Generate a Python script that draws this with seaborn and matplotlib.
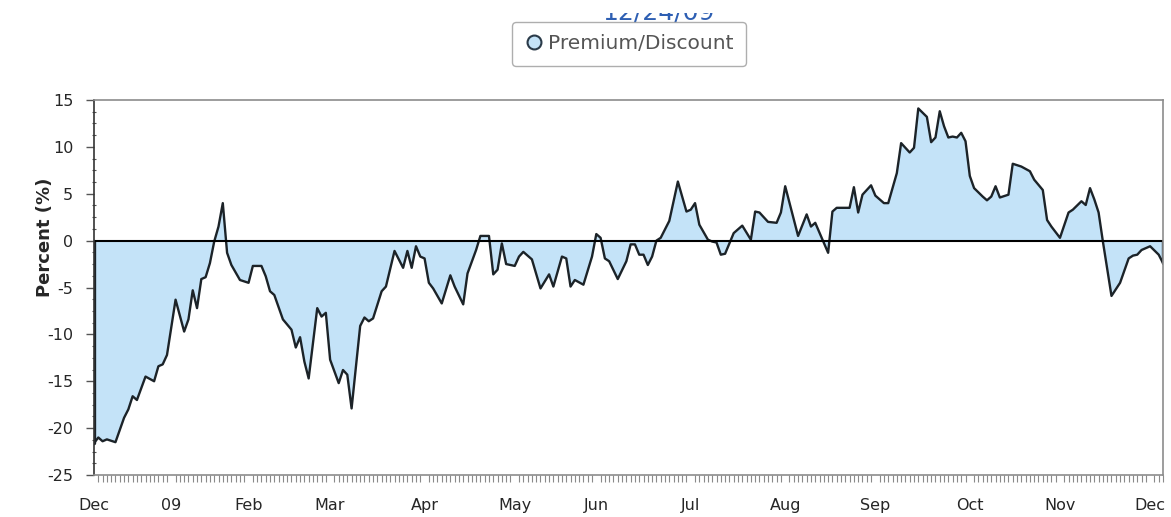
import numpy as np
import pandas as pd
import matplotlib
matplotlib.use('Agg')
import matplotlib.pyplot as plt
import seaborn as sns
from matplotlib.lines import Line2D
from matplotlib.patches import Rectangle
from matplotlib.ticker import MultipleLocator

# trading day index (0 = 12/24/08) and premium/discount in %
days = [0, 1, 2, 3, 5, 6, 7, 8, 9, 10, 12, 14, 15, 16, 17, 19, 21, 22, 23, 24,
        25, 26, 27, 28, 29, 30, 31, 32, 34, 36, 37, 39, 40, 41, 42, 44, 46, 47, 48, 49,
        50, 52, 53, 54, 55, 57, 58, 59, 60, 62, 63, 64, 65, 67, 68, 70, 72, 73, 74, 75,
        76, 77, 78, 79, 81, 83, 84, 86, 87, 89, 90, 92, 93, 94, 95, 96, 98, 99, 100, 102,
        104, 106, 107, 109, 110, 111, 112, 114, 116, 117, 118, 119, 120, 122, 124, 125, 126, 127, 128, 129,
        130, 131, 132, 134, 136, 138, 139, 140, 141, 143, 144, 145, 146, 147, 149, 151, 153, 154, 155, 157,
        159, 160, 161, 164, 166, 167, 168, 171, 172, 173, 176, 177, 178, 179, 181, 182, 184, 185, 187, 188,
        190, 191, 192, 194, 195, 196, 197, 198, 199, 200, 201, 202, 203, 204, 205, 207, 208, 209, 210, 211,
        213, 214, 216, 218, 219, 221, 222, 223, 225, 227, 228, 230, 231, 232, 233, 234, 235, 237, 238, 239,
        241, 242, 243, 244, 246, 248, 249]
premium = [-21.6, -21.0, -21.4, -21.2, -21.5, -20.2, -18.9, -18.0, -16.6, -17.0, -14.5, -15.0, -13.4, -13.2, -12.2, -6.3, -9.7, -8.4, -5.3, -7.2,
           -4.1, -3.9, -2.4, -0.1, 1.5, 4.0, -1.3, -2.6, -4.2, -4.5, -2.7, -2.7, -3.8, -5.4, -5.8, -8.4, -9.5, -11.4, -10.3, -12.9,
           -14.7, -7.2, -8.1, -7.7, -12.7, -15.2, -13.8, -14.3, -17.9, -9.1, -8.2, -8.6, -8.3, -5.4, -4.9, -1.1, -2.9, -1.1, -2.9, -0.6,
           -1.7, -1.9, -4.5, -5.1, -6.7, -3.7, -4.9, -6.8, -3.5, -1.0, 0.5, 0.5, -3.6, -3.1, -0.3, -2.5, -2.7, -1.7, -1.2, -2.0,
           -5.1, -3.6, -4.9, -1.7, -1.9, -4.9, -4.2, -4.7, -1.7, 0.7, 0.3, -1.9, -2.2, -4.1, -2.2, -0.4, -0.4, -1.5, -1.5, -2.6,
           -1.7, 0.0, 0.3, 2.1, 6.3, 3.1, 3.3, 4.0, 1.7, 0.1, -0.1, -0.2, -1.5, -1.4, 0.8, 1.6, 0.1, 3.1, 3.0, 2.0,
           1.9, 3.0, 5.8, 0.5, 2.8, 1.5, 1.9, -1.3, 3.1, 3.5, 3.5, 5.7, 3.0, 4.9, 5.9, 4.8, 4.0, 4.0, 7.2, 10.4,
           9.4, 9.9, 14.1, 13.2, 10.5, 11.0, 13.8, 12.2, 11.0, 11.1, 11.0, 11.5, 10.6, 6.9, 5.6, 4.7, 4.3, 4.7, 5.8, 4.6,
           4.9, 8.2, 7.9, 7.4, 6.5, 5.4, 2.2, 1.5, 0.3, 3.0, 3.3, 4.2, 3.8, 5.6, 4.4, 3.0, -0.1, -5.9, -5.2, -4.5,
           -1.9, -1.6, -1.5, -1.0, -0.6, -1.5, -2.4]

month_ticks = [0, 18, 36, 55, 77, 98, 117, 139, 161, 182, 204, 225, 246]
month_labels = ['Dec', '09', 'Feb', 'Mar', 'Apr', 'May', 'Jun', 'Jul', 'Aug', 'Sep', 'Oct', 'Nov', 'Dec']
n_days = 250
as_of = '12/24/09'

sns.set_style('white')
plt.rcParams['font.family'] = ['DejaVu Sans']
plt.rcParams['axes.unicode_minus'] = False

df = pd.DataFrame({'day': days, 'pct': premium})
print(df.shape)

fill_col = '#c4e3f8'
line_col = '#1c2328'

fig = plt.figure(figsize=(11.71, 5.17), dpi=100)
ax = fig.add_axes([94 / 1171, 42 / 517, 1069 / 1171, 375 / 517])

ax.fill_between(df['day'], df['pct'], 0, color=fill_col, lw=0)
sns.lineplot(data=df, x='day', y='pct', ax=ax, color=line_col, lw=1.7)
# close the area at both ends
ax.plot([days[0], days[0]], [0, premium[0]], color=line_col, lw=2.4)
ax.plot([days[-1], days[-1]], [0, premium[-1]], color=line_col, lw=2.4)
ax.axhline(0, color='black', lw=1.5)

ax.set_xlim(0, n_days - 1)
ax.set_ylim(-25, 15)

# axes / ticks
ax.set_xticks(month_ticks)
ax.set_xticklabels(month_labels)
ax.xaxis.set_minor_locator(MultipleLocator(1))
ax.tick_params(axis='x', which='major', length=0, pad=16.5, labelsize=11.5, bottom=True)
ax.tick_params(axis='x', which='minor', length=5, width=0.8, color='#8a8a8a', direction='out', bottom=True)
ax.set_yticks(range(-25, 16, 5))
ax.yaxis.set_minor_locator(MultipleLocator(1.25))
ax.tick_params(axis='y', which='major', length=6, width=1, color='#555555', pad=9, labelsize=11.5, left=True)
ax.tick_params(axis='y', which='minor', length=3, width=0.8, color='#555555', direction='inout', left=True)

ax.set_xlabel('')
ax.set_ylabel('Percent (%)', fontsize=13, fontweight='bold')
ax.yaxis.set_label_coords(-0.037, 0.635)

for s in ax.spines.values():
    s.set_visible(True)
    s.set_color('#8c8c8c')
    s.set_linewidth(1.2)
ax.spines['left'].set_color('#333333')

# legend
handle = Line2D([], [], marker='o', ls='none', markersize=10,
                markerfacecolor=fill_col, markeredgecolor='#2a3a48', markeredgewidth=1.5)
fig.legend([handle], ['Premium/Discount'], loc='upper left',
           bbox_to_anchor=(512 / 1171, 1 - 22 / 517), frameon=True, fancybox=True,
           edgecolor='#9a9a9a', fontsize=14.5, labelcolor='#555555',
           handlelength=0.9, handletextpad=0.25, borderpad=0.62, borderaxespad=0)

# date header, only its lower part shows in the screenshot
fig.text(658 / 1171, 1 - 19 / 517, as_of, ha='center', va='baseline',
         fontsize=18, color='#2e5fb3', zorder=2)
cover = Rectangle((0, 1 - 13 / 517), 1, 13 / 517, transform=fig.transFigure,
                  facecolor='white', edgecolor='none', zorder=10)
fig.add_artist(cover)

fig.savefig('out.png', dpi=100)
print("saved out.png")
